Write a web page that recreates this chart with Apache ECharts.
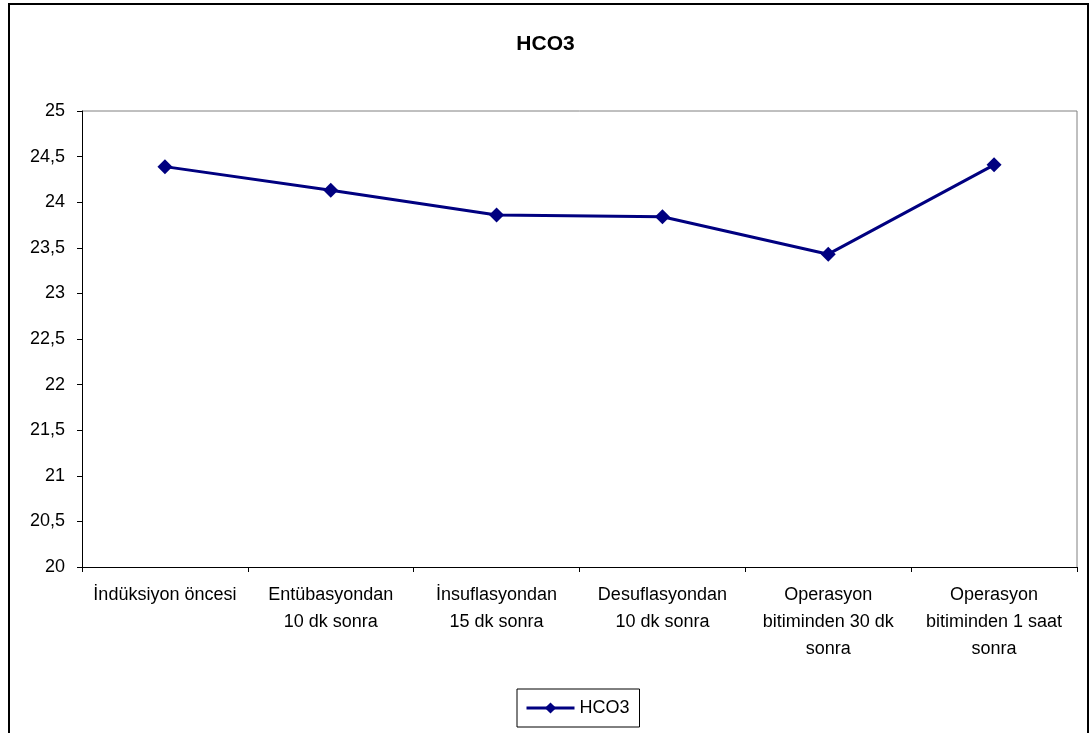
<!DOCTYPE html>
<html>
<head>
<meta charset="utf-8">
<script src="https://cdn.jsdelivr.net/npm/echarts@6/dist/echarts.min.js"></script>
<style>
  html, body { margin: 0; padding: 0; background: #fff; }
  #chart { width: 1091px; height: 733px; }
</style>
</head>
<body>
<div id="chart"></div>
<script>
// Measurement time points
const categories = [
  'İndüksiyon öncesi',
  'Entübasyondan\n10 dk sonra',
  'İnsuflasyondan\n15 dk sonra',
  'Desuflasyondan\n10 dk sonra',
  'Operasyon\nbitiminden 30 dk\nsonra',
  'Operasyon\nbitiminden 1 saat\nsonra'
];
// Mean HCO3 at each time point
const hco3Values = [24.39, 24.13, 23.86, 23.84, 23.43, 24.41];
const seriesName = 'HCO3';
const titleText = 'HCO3';

const font = 'Liberation Sans, Arial, sans-serif';
const chart = echarts.init(document.getElementById('chart'), null, { renderer: 'canvas' });

chart.setOption({
  backgroundColor: '#fff',
  animation: false,
  textStyle: { fontFamily: font },
  title: {
    text: titleText,
    left: 'center',
    top: 29,
    textStyle: { fontFamily: font, fontSize: 21, fontWeight: 'bold', color: '#000' }
  },
  graphic: [{
    type: 'rect',
    shape: { x: 9, y: 4, width: 1079, height: 760 },
    style: { fill: 'none', stroke: '#000', lineWidth: 2 },
    silent: true
  }, {
    type: 'line',
    shape: { x1: 82, y1: 111, x2: 1077, y2: 111 },
    style: { stroke: '#808080', lineWidth: 1 },
    silent: true
  }, {
    type: 'line',
    shape: { x1: 1077, y1: 111, x2: 1077, y2: 567 },
    style: { stroke: '#808080', lineWidth: 1 },
    silent: true
  }],
  legend: {
    data: [seriesName],
    left: 517,
    top: 689,
    orient: 'horizontal',
    itemWidth: 48,
    itemHeight: 14,
    itemGap: 4,
    padding: [10, 10, 10, 8],
    borderColor: '#000',
    borderWidth: 1,
    lineStyle: { width: 3 },
    textStyle: { fontFamily: font, fontSize: 18, color: '#000' }
  },
  grid: { left: 82, right: 14, top: 111, bottom: 166, containLabel: false },
  xAxis: {
    type: 'category',
    data: categories,
    boundaryGap: true,
    axisLine: { lineStyle: { color: '#000', width: 1 } },
    axisTick: { show: true, length: 5, lineStyle: { color: '#000' } },
    axisLabel: {
      interval: 0,
      margin: 15,
      fontFamily: font,
      fontSize: 18,
      color: '#000',
      lineHeight: 27,
      align: 'center'
    },
    splitLine: { show: false }
  },
  yAxis: {
    type: 'value',
    min: 20,
    max: 25,
    interval: 0.5,
    axisLine: { show: true, lineStyle: { color: '#000', width: 1 } },
    axisTick: { show: true, length: 5, lineStyle: { color: '#000' } },
    axisLabel: {
      margin: 17,
      fontFamily: font,
      fontSize: 18,
      color: '#000',
      formatter: v => String(v).replace('.', ',')
    },
    splitLine: { show: false }
  },
  series: [{
    name: seriesName,
    type: 'line',
    data: hco3Values,
    symbol: 'diamond',
    symbolSize: 15,
    lineStyle: { color: '#000080', width: 3 },
    itemStyle: { color: '#000080' }
  }]
});
</script>
</body>
</html>
